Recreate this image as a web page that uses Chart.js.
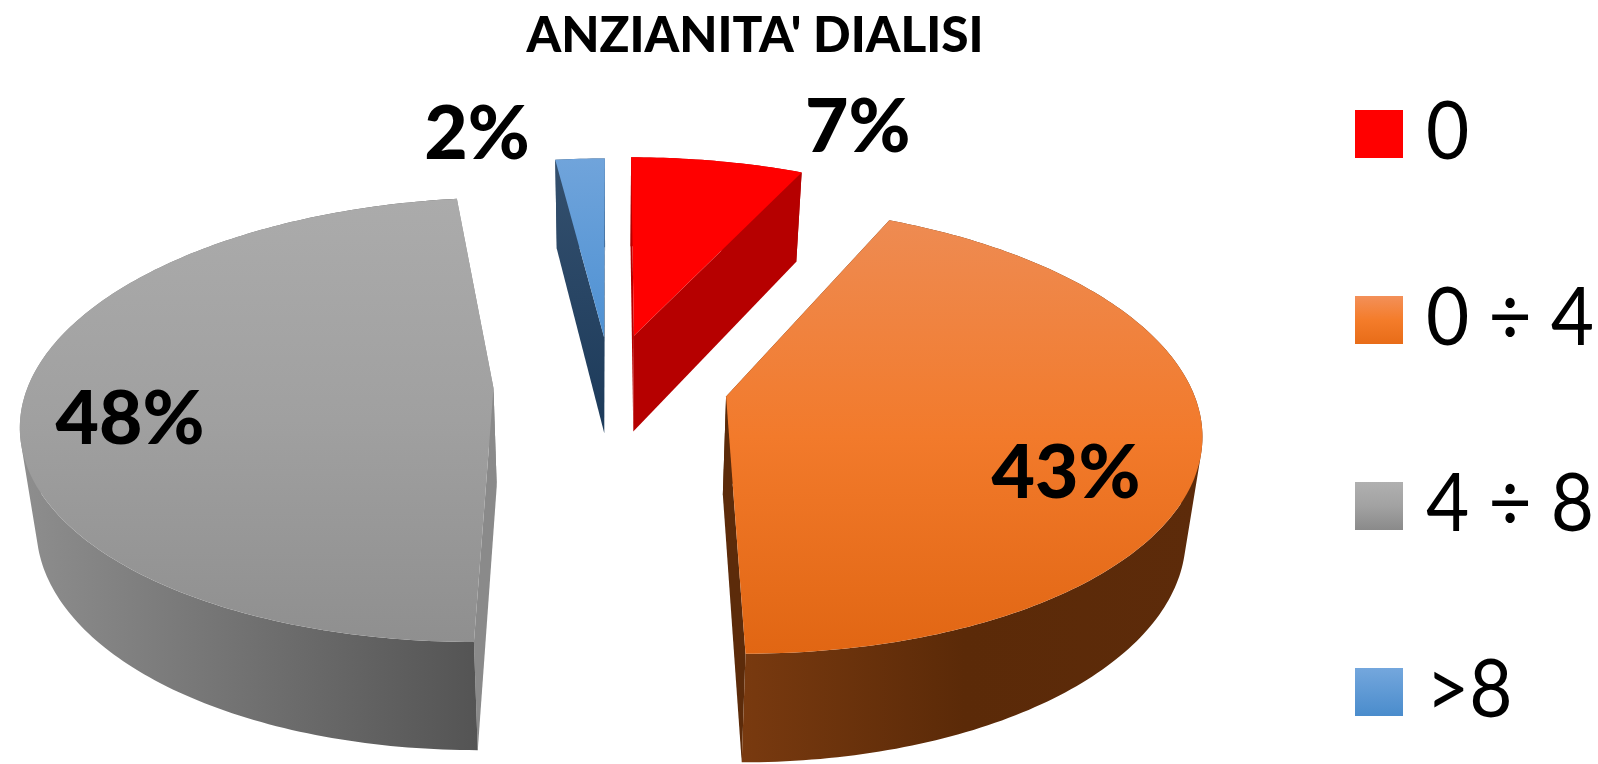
<!DOCTYPE html>
<html>
<head>
<meta charset="utf-8">
<title>Anzianita' dialisi</title>
<script src="https://cdn.jsdelivr.net/npm/chart.js@4"></script>
<style>
    html, body { margin: 0; padding: 0; background: #fff; overflow: hidden; }
    #wrap { width: 1598px; height: 764px; }
</style>
</head>
<body>
<div id="wrap"><canvas id="pie"></canvas></div>
<script>
const categories = ['0', '0 ÷ 4', '4 ÷ 8', '>8'];
const percentages = [7, 43, 48, 2];
const chartTitle = "ANZIANITA' DIALISI";

// how far each slice is pulled out of the pie, in pie-plane pixels
const explode = [111, 117.5, 117, 105];
const pieRadius = 465;

// top face colours (vertical gradient) and wall colours for each slice
const topStops = [
    ['#ff0000', '#ff0000'],
    ['#ee8b52', '#f27a2b', '#e16613'],
    ['#ababab', '#a0a0a0', '#8f8f8f'],
    ['#70a4db', '#4e91d3']
];
const rimStops = [
    ['#b60000', '#b60000'],
    ['#7b3b10', '#5b2a08', '#5d2b0a'],
    ['#8e8e8e', '#525252'],
    ['#34506e', '#1c3a5a']
];
const sideColors = ['#b60000', '#5c2b0a', '#8a8a8a', '#22405f'];
const legendStops = [
    ['#ff0000', '#ff0000'],
    ['#f39059', '#f47c2a', '#e86c18'],
    ['#b0b0b0', '#a2a2a2', '#8a8a8a'],
    ['#74a7dd', '#4a8ccc']
];
// value label position, relative to the middle of the slice's rim
const labelNudge = [[140, -33], [-136, 28], [107, 18], [-103, -24]];

// perspective of the pie plane
const view = { xc: 610.5, yc: 384.5, sy: 0.466, k: 0.000307 };

function project(u, v) {
    const w = 1 - view.k * v;
    return { x: view.xc + u / w, y: view.yc + view.sy * v / w };
}

// same point on the underside of the slice
function dropped(p) {
    return {
        x: view.xc + (p.x - view.xc) * 0.972,
        y: p.y + 98 + (p.y - 387) * 0.04
    };
}

function addPolygon(ctx, pts) {
    pts.forEach((p, i) => i ? ctx.lineTo(p.x, p.y) : ctx.moveTo(p.x, p.y));
    ctx.closePath();
}

function tracePath(ctx, pts) {
    ctx.beginPath();
    addPolygon(ctx, pts);
}

// all strips need the same winding or overlapping ones cancel out
function sameWinding(pts) {
    let area = 0;
    pts.forEach((p, i) => {
        const q = pts[(i + 1) % pts.length];
        area += p.x * q.y - q.x * p.y;
    });
    return area < 0 ? pts.slice().reverse() : pts;
}

function makeGradient(ctx, x0, y0, x1, y1, stops) {
    const g = ctx.createLinearGradient(x0, y0, x1, y1);
    stops.forEach((c, i) => g.addColorStop(i / (stops.length - 1), c));
    return g;
}

function sliceGeometry(arc) {
    const { startAngle, endAngle, outerRadius, options } = arc;
    const mid = (startAngle + endAngle) / 2;
    const ox = Math.cos(mid) * options.offset;
    const oy = Math.sin(mid) * options.offset;
    const apex = project(ox, oy);
    const rim = [];
    const steps = Math.max(4, Math.ceil((endAngle - startAngle) * 60));
    for (let i = 0; i <= steps; i++) {
        const a = startAngle + (endAngle - startAngle) * i / steps;
        rim.push(project(ox + Math.cos(a) * outerRadius, oy + Math.sin(a) * outerRadius));
    }
    const rimMid = project(ox + Math.cos(mid) * outerRadius, oy + Math.sin(mid) * outerRadius);
    return { apex, rim, rimMid };
}

const pie3d = {
    id: 'pie3d',
    beforeDatasetDraw(chart) {
        const ctx = chart.ctx;
        const arcs = chart.getDatasetMeta(0).data;
        // back slices first
        [3, 0, 2, 1].forEach(i => {
            const { apex, rim } = sliceGeometry(arcs[i]);
            const lowRim = rim.map(dropped);
            const lowApex = dropped(apex);
            const xs = rim.map(p => p.x).concat(apex.x);
            const ys = rim.map(p => p.y).concat(apex.y);
            const left = Math.min(...xs), right = Math.max(...xs);
            const top = Math.min(...ys), bottom = Math.max(...ys);

            ctx.save();
            // side walls along both cut edges
            ctx.fillStyle = sideColors[i];
            if (i === 3) ctx.fillStyle = makeGradient(ctx, 0, top, 0, lowApex.y, rimStops[3]);
            [rim[0], rim[rim.length - 1]].forEach(edge => {
                tracePath(ctx, [apex, edge, dropped(edge), lowApex]);
                ctx.fill();
            });
            // outer wall, one strip per rim step in a single path so the silhouette stays closed
            ctx.fillStyle = i === 3
                ? makeGradient(ctx, 0, top, 0, lowApex.y, rimStops[3])
                : makeGradient(ctx, left, 0, right, 0, rimStops[i]);
            ctx.beginPath();
            for (let n = 0; n < rim.length - 1; n++) {
                addPolygon(ctx, sameWinding([rim[n], rim[n + 1], lowRim[n + 1], lowRim[n]]));
            }
            ctx.fill();
            // top face
            ctx.fillStyle = makeGradient(ctx, 0, top, 0, bottom, topStops[i]);
            tracePath(ctx, [apex].concat(rim));
            ctx.fill();
            ctx.restore();
        });
        return false;
    },
    afterDatasetsDraw(chart) {
        const ctx = chart.ctx;
        const arcs = chart.getDatasetMeta(0).data;
        ctx.save();
        ctx.fillStyle = '#000';
        ctx.textBaseline = 'middle';
        ctx.textAlign = 'center';
        ctx.font = '900 75px Lato';
        arcs.forEach((arc, i) => {
            const { rimMid } = sliceGeometry(arc);
            ctx.fillText(percentages[i] + '%', rimMid.x + labelNudge[i][0], rimMid.y + labelNudge[i][1]);
        });

        // legend
        const rowY = [134, 320, 506, 692];
        ctx.textAlign = 'left';
        ctx.font = '82px Lato';
        categories.forEach((name, i) => {
            ctx.fillStyle = makeGradient(ctx, 0, rowY[i] - 24, 0, rowY[i] + 24, legendStops[i]);
            ctx.fillRect(1355, rowY[i] - 24, 48, 48);
            ctx.fillStyle = '#000';
            ctx.save();
            ctx.translate(1426, rowY[i] - 1);
            ctx.scale(0.91, 1);
            ctx.fillText(name, 0, 0);
            ctx.restore();
        });
        ctx.restore();
    }
};

new Chart(document.getElementById('pie'), {
    type: 'pie',
    data: {
        labels: categories,
        datasets: [{
            data: percentages,
            offset: explode,
            backgroundColor: ['#ff0000', '#f27a2b', '#a0a0a0', '#4e91d3'],
            borderWidth: 0
        }]
    },
    options: {
        responsive: true,
        maintainAspectRatio: false,
        animation: false,
        radius: pieRadius,
        layout: { padding: { right: 88 } },
        plugins: {
            legend: { display: false },
            tooltip: { enabled: false },
            title: {
                display: true,
                text: chartTitle,
                color: '#000',
                font: { family: 'Lato', size: 49.5, weight: '900' },
                padding: { top: 6, bottom: 10 }
            }
        }
    },
    plugins: [pie3d]
});
</script>
</body>
</html>
